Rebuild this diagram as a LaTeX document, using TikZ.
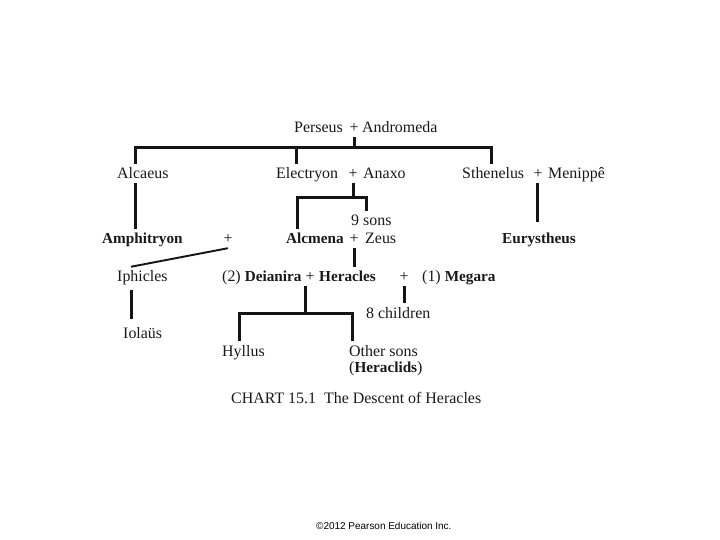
\documentclass[tikz,border=0pt]{standalone}
\usepackage{fontspec}
\setmainfont{Liberation Serif}
\newfontfamily\copyfont{Liberation Sans}
\newcommand\bn[1]{{\fontsize{15.3}{18}\selectfont\bfseries #1}}
\begin{document}
\begin{tikzpicture}[x=1bp,y=-1bp,
  txt/.style={anchor=base west, inner xsep=0pt, inner ysep=4bp, font=\fontsize{16}{19}\selectfont, text=black!90},
  bld/.style={txt, font=\fontsize{15.3}{18}\selectfont\bfseries},
  pl/.style={anchor=base, inner xsep=0pt, inner ysep=4bp, font=\fontsize{16}{19}\selectfont, text=black!90},
  ln/.style={line width=3bp, black!92},
  thn/.style={line width=1.9bp, black!92}]
\useasboundingbox[fill=white] (0,0) rectangle (720,540);

% row 1
\node[txt] (perseus) at (294,133) {Perseus};
\node[pl] (pp) at (354,133) {+};
\node[txt] (andromeda) at (362,133) {Andromeda};

% row 2
\node[txt] (alcaeus) at (117,179) {Alcaeus};
\node[txt] (electryon) at (276,179) {Electryon};
\node[pl] (ep) at (353,179) {+};
\node[txt] (anaxo) at (363,179) {Anaxo};
\node[txt] (sthenelus) at (462,179) {Sthenelus};
\node[pl] (sp) at (538,179) {+};
\node[txt] (menippe) at (548,179) {Menippê};

% row 3
\node[txt] (ninesons) at (351,226) {9 sons};
\node[bld] (amphitryon) at (102,244) {Amphitryon};
\node[pl] (ap) at (228,244) {+};
\node[bld] (alcmena) at (286,244) {Alcmena};
\node[pl] (azp) at (354,244) {+};
\node[txt] (zeus) at (365,244) {Zeus};
\node[bld] (eurystheus) at (502,244) {Eurystheus};

% row 4
\node[txt] (iphicles) at (117,282) {Iphicles};
\node[txt] (deianira) at (222,282) {(2) \bn{Deianira}};
\node[pl] (dhp) at (310,282) {+};
\node[bld] (heracles) at (319,282) {Heracles};
\node[pl] (hmp) at (404,282) {+};
\node[txt] (megara) at (422,282) {(1) \bn{Megara}};

% row 5
\node[txt] (children) at (366,318) {8 children};
\node[txt] (iolaus) at (123,338) {Iolaüs};
\node[txt] (hyllus) at (222,356) {Hyllus};
\node[txt] (othersons) at (349,356) {Other sons};
\node[txt] (heraclids) at (349,372) {(\bn{Heraclids})};

% caption
\node[txt] (caption) at (231,403) {CHART 15.1\ \ The Descent of Heracles};
\node[anchor=base west, inner sep=0pt, font=\copyfont\fontsize{10}{12}\selectfont] (copy) at (316,529) {©2012 Pearson Education Inc.};

% junction coordinates
\coordinate (c1) at (135,148);
\coordinate (c2) at (296,148);
\coordinate (c3) at (491,148);
\coordinate (c4) at (131,0);
\coordinate (j1) at (297,198);
\coordinate (j2) at (366,198);
\coordinate (c5) at (305,313);
\coordinate (c6) at (239,313);
\coordinate (c7) at (352,313);
\coordinate (e1) at (537,222);
\coordinate (i1) at (131,319);

% connectors
\draw[ln] (pp.south) -- (pp.south |- c2);
\draw[ln] (alcaeus.north -| c1) -- (c1) -- (c3) -- (sthenelus.north -| c3);
\draw[ln] (c2) -- (electryon.north -| c2);
\draw[ln] (alcaeus.south -| c1) -- (amphitryon.north -| c1);
\draw[ln] (ep.south) -- (ep.south |- j1);
\draw[ln] (alcmena.north -| j1) -- (j1) -- (j2) -- (ninesons.north -| j2);
\draw[ln] (sp.south -| e1) -- (e1);
\draw[thn] (ap.south) -- (iphicles.north -| c4);
\draw[ln] (azp.south) -- (heracles.north -| azp.south);
\draw[ln] (dhp.south -| c5) -- (c5);
\draw[ln] (hyllus.north -| c6) -- (c6) -- (c7) -- (othersons.north -| c7);
\draw[ln] (hmp.south) -- (children.north -| hmp.south);
\draw[ln] (iphicles.south -| c4) -- (i1);
\end{tikzpicture}
\end{document}
